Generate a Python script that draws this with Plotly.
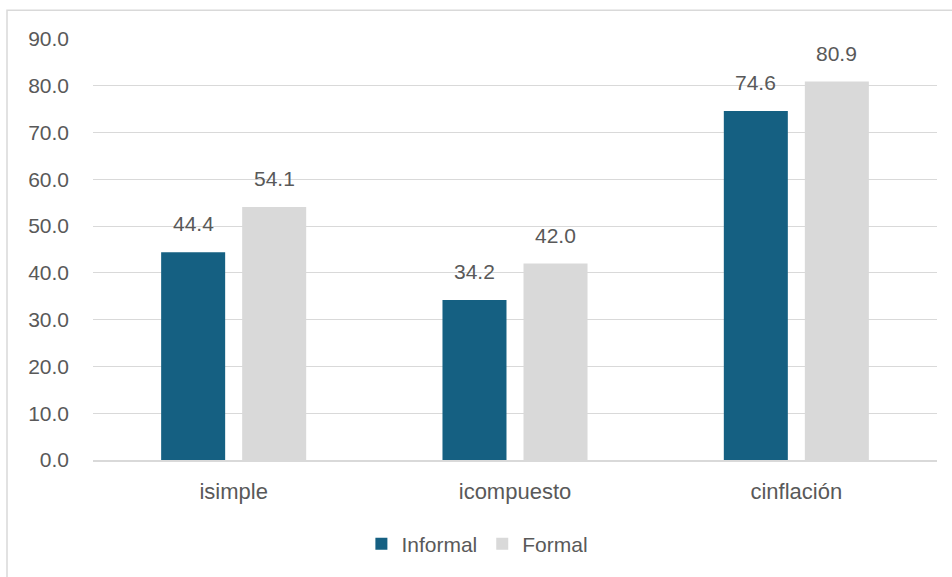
import plotly.graph_objects as go

categories = ["isimple", "icompuesto", "cinflación"]
informal = [44.4, 34.2, 74.6]
formal = [54.1, 42.0, 80.9]
series_names = ["Informal", "Formal"]
tick_vals = [0, 10, 20, 30, 40, 50, 60, 70, 80, 90]
tick_text = [f"{v:.1f}" for v in tick_vals]

W, H = 952, 577
ML, MR, MT, MB = 93, 15, 39, 115
BARGAP = 0.424
BARGROUPGAP = 0.21
FONT = "Liberation Sans"
TXT = "#595959"
C_INF = "#156082"
C_FOR = "#D9D9D9"

fig = go.Figure()
fig.add_trace(go.Bar(x=categories, y=informal, name=series_names[0], marker=dict(color=C_INF, line=dict(width=0))))
fig.add_trace(go.Bar(x=categories, y=formal, name=series_names[1], marker=dict(color=C_FOR, line=dict(width=0))))

catw = (W - ML - MR) / len(categories)
slot = catw * (1 - BARGAP) / 2
shift = slot / 2
annotations = []
for vals, sgn in ((informal, -1), (formal, 1)):
    for c, v in zip(categories, vals):
        annotations.append(dict(x=c, y=v, xref="x", yref="y", text=f"{v:.1f}", showarrow=False,
                                xshift=sgn * shift, yshift=15, yanchor="bottom",
                                font=dict(family=FONT, size=21, color=TXT)))

fig.update_layout(
    width=W, height=H,
    margin=dict(l=ML, r=MR, t=MT, b=MB),
    paper_bgcolor="white", plot_bgcolor="white",
    barmode="group", bargap=BARGAP, bargroupgap=BARGROUPGAP,
    font=dict(family=FONT, size=21, color=TXT),
    showlegend=True,
    legend=dict(orientation="h", x=0.318, xanchor="left", y=-0.2, yanchor="middle",
                font=dict(family=FONT, size=21, color=TXT), traceorder="normal"),
    annotations=annotations,
    shapes=[dict(type="rect", xref="paper", yref="paper",
                 x0=(7 - ML) / (W - ML - MR), x1=1.2,
                 y0=-0.5, y1=(H - 10 - MB) / (H - MT - MB),
                 line=dict(color="#D9D9D9", width=1.5), layer="below")],
)
fig.update_xaxes(showgrid=False, showline=True, linecolor="#D9D9D9", linewidth=2, ticks="",
                 tickfont=dict(family=FONT, size=22, color=TXT), ticklabelstandoff=11)
fig.update_yaxes(range=[0, 90], tickvals=tick_vals, ticktext=tick_text, showgrid=True,
                 gridcolor="#D9D9D9", gridwidth=1.3, zeroline=False, showline=False,
                 tickfont=dict(family=FONT, size=21, color=TXT), ticklabelstandoff=23)

fig.write_html("out.html")
